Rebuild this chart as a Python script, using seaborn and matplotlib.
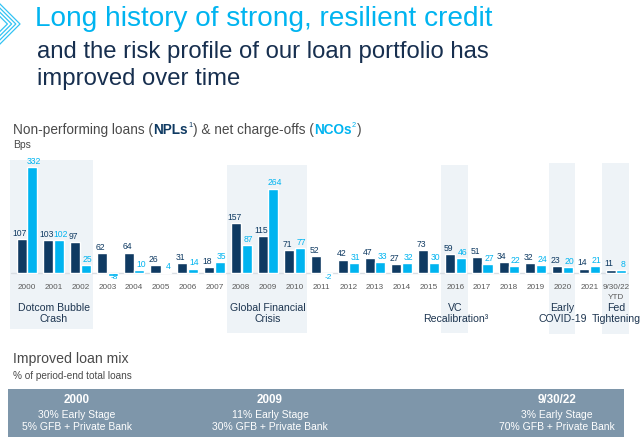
import matplotlib
matplotlib.use("Agg")
import matplotlib.pyplot as plt
import seaborn as sns
import pandas as pd
from matplotlib.patches import Rectangle
from matplotlib.lines import Line2D

# ---------------- data ----------------
categories = ["2000", "2001", "2002", "2003", "2004", "2005", "2006", "2007",
              "2008", "2009", "2010", "2011", "2012", "2013", "2014", "2015",
              "2016", "2017", "2018", "2019", "2020", "2021", "9/30/22\nYTD"]
npl_values = [107, 103, 97, 62, 64, 26, 31, 18, 157, 115, 71, 52, 42, 47, 27,
              73, 59, 51, 34, 32, 23, 14, 11]
nco_values = [332, 102, 25, -8, 10, 4, 14, 35, 87, 264, 77, -2, 31, 33, 32,
              30, 46, 27, 22, 24, 20, 21, 8]
series_names = ["NPLs", "NCOs"]

# shaded event periods: (label, first index, last index, label index)
events = [("Dotcom Bubble\nCrash", 0, 2, 1),
          ("Global Financial\nCrisis", 8, 10, 9),
          ("VC\nRecalibration³", 16, 16, 16),
          ("Early\nCOVID-19", 20, 20, 20),
          ("Fed\nTightening", 22, 22, 22)]

mix_periods = ["2000", "2009", "9/30/22"]
mix_early = ["30% Early Stage", "11% Early Stage", "3% Early Stage"]
mix_gfb = ["5% GFB + Private Bank", "30% GFB + Private Bank", "70% GFB + Private Bank"]

# ---------------- style ----------------
NAVY = "#0f3a62"
CYAN = "#00b4f0"
SHADE = "#eef3f7"
BAND = "#7e96aa"
GREY = "#4a4a4a"

sns.set_theme(style="white")
plt.rcParams["font.family"] = ["Liberation Sans", "DejaVu Sans"]
NARROW = ["Liberation Sans Narrow", "Liberation Sans", "DejaVu Sans"]

df = pd.DataFrame({
    "period": categories * 2,
    "series": [series_names[0]] * len(categories) + [series_names[1]] * len(categories),
    "bps": npl_values + nco_values,
})

fig = plt.figure(figsize=(6.4, 4.43), dpi=100)
ax = fig.add_axes([0.015, 0.2212, 0.9684, 0.4289])

sns.barplot(data=df, x="period", y="bps", hue="series", order=categories,
            hue_order=series_names, palette=[NAVY, CYAN], width=0.8, gap=0.06,
            saturation=1, legend=False, ax=ax, zorder=2)

ax.set_xlim(-0.65, 22.5)
ax.set_ylim(-225, 369)
ax.axis("off")

# baseline
ax.plot([-0.6, 22.45], [0, 0], color="#d8dde3", lw=1.0, zorder=1.5)

# shaded regions
for label, i0, i1, ic in events:
    left = -0.64 if i0 == 0 else i0 - 0.52
    right = i1 + 0.47
    if i0 == 0:
        top, bottom = 353, -175
    elif i0 in (8, 16):
        top, bottom = 338, -188
    else:
        top, bottom = 344, -190
    ax.add_patch(Rectangle((left, bottom), right - left, top - bottom,
                           facecolor=SHADE, edgecolor="none", zorder=0))
    ax.text(ic, -127, label, ha="center", va="center", fontsize=7.6,
            color="#1d3550", linespacing=1.2, zorder=3)

# value labels
for cont, col, vals, dx in zip(ax.containers, [NAVY, CYAN],
                               [npl_values, nco_values], [-1.2, 1.2]):
    for patch, v in zip(cont.patches, vals):
        xc = patch.get_x() + patch.get_width() / 2
        if v >= 0:
            ax.annotate(f"{v:d}", xy=(xc, v), xytext=(dx, 0.8),
                        textcoords="offset points", ha="center", va="bottom",
                        fontsize=6.2, color=col, family=NARROW, zorder=4)
        else:
            ax.annotate(f"{v:d}", xy=(xc, 0), xytext=(dx, -0.5),
                        textcoords="offset points", ha="center", va="top",
                        fontsize=6.0, color=col, family=NARROW, zorder=4)

# category labels
for i, c in enumerate(categories):
    for k, line in enumerate(c.split("\n")):
        ax.text(i, -45 - 31 * k, line, ha="center", va="center",
                fontsize=5.9, color="#5a5a5a")

# ---------------- titles ----------------
fig.text(35 / 640, 1 - 19 / 443, "Long history of strong, resilient credit",
         fontsize=20.2, color=CYAN, va="center", ha="left")
fig.text(37 / 640, 1 - 52 / 443, "and the risk profile of our loan portfolio has",
         fontsize=17.2, color="#172f4f", va="center", ha="left")
fig.text(37 / 640, 1 - 79 / 443, "improved over time",
         fontsize=17.2, color="#172f4f", va="center", ha="left")

# chevron decoration
for k in range(4):
    tip = 20 - k * 4.2
    xs = [(tip - 22) / 640, tip / 640, (tip - 22) / 640]
    ys = [1 - 2 / 443, 1 - 24 / 443, 1 - 46 / 443]
    fig.add_artist(Line2D(xs, ys, color=CYAN, lw=0.9, alpha=0.8))

# chart subtitle with mixed styling
t0 = fig.text(13 / 640, 1 - 130 / 443, "Non-performing loans (", fontsize=9.8,
              color=GREY, va="center", ha="left")
parts = [("NPLs", NAVY, "bold", 9.8, 0),
         ("1", NAVY, "normal", 5.3, 3.4),
         (") & net charge-offs (", GREY, "normal", 9.8, 0),
         ("NCOs", CYAN, "bold", 9.8, 0),
         ("2", CYAN, "normal", 5.3, 3.4),
         (")", GREY, "normal", 9.8, 0)]
prev = t0
for s, col, w, fs, dy in parts:
    prev = ax.annotate(s, xy=(1, 0.5), xycoords=(prev, t0), xytext=(0.3, dy),
                       textcoords="offset points", fontsize=fs, color=col,
                       fontweight=w, va="center", ha="left",
                       annotation_clip=False)
fig.text(13 / 640, 1 - 145 / 443, "Bps", fontsize=7.5, color=GREY,
         va="center", ha="left")

# improved loan mix
fig.text(13 / 640, 1 - 359 / 443, "Improved loan mix", fontsize=10.2,
         color=GREY, va="center", ha="left")
fig.text(13 / 640, 1 - 376 / 443, "% of period-end total loans", fontsize=7.2,
         color=GREY, va="center", ha="left")

fig.add_artist(Rectangle((8 / 640, 1 - 437 / 443), (624 - 8) / 640, 48 / 443,
                         transform=fig.transFigure, facecolor=BAND,
                         edgecolor="none", zorder=0))
centers = [77, 270, 557]
for cx, p, e, g in zip(centers, mix_periods, mix_early, mix_gfb):
    fig.text(cx / 640, 1 - 400 / 443, p, fontsize=8.4, fontweight="bold",
             color="white", ha="center", va="center")
    fig.text(cx / 640, 1 - 414.5 / 443, e, fontsize=7.5, color="white",
             ha="center", va="center")
    fig.text(cx / 640, 1 - 427.5 / 443, g, fontsize=7.5, color="white",
             ha="center", va="center")

fig.savefig("out.png", dpi=100)
